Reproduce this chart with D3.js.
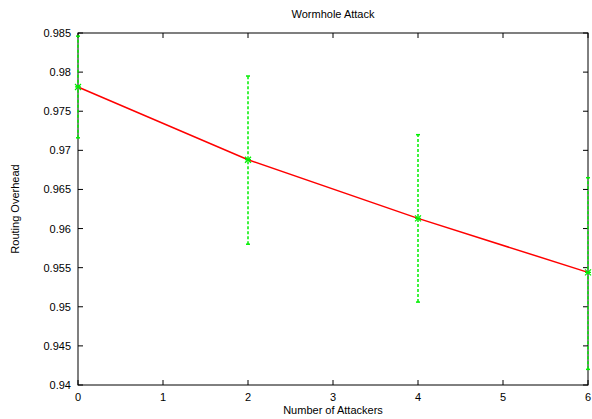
<!DOCTYPE html>
<html><head><meta charset="utf-8">
<script src="https://cdn.jsdelivr.net/npm/d3@7"></script>
<style>body{margin:0;background:#fff}svg{display:block;font-family:"Liberation Sans",Arial,sans-serif}</style>
</head><body>
<svg id="c" width="592" height="419"></svg>
<script>
const attackers = [0, 2, 4, 6];
const overhead = [0.9781, 0.9688, 0.9613, 0.9544];
const errLow = [0.9716, 0.9580, 0.9506, 0.9420];
const errHigh = [0.9846, 0.9795, 0.9720, 0.9665];
const xTicks = [0, 1, 2, 3, 4, 5, 6];
const yTicks = [0.94, 0.945, 0.95, 0.955, 0.96, 0.965, 0.97, 0.975, 0.98, 0.985];

const svg = d3.select("#c");
const L = 78, R = 588, T = 33, B = 385;
const x = d3.scaleLinear().domain([0, 6]).range([L, R]);
const y = d3.scaleLinear().domain([0.94, 0.985]).range([B, T]);

const fmt = d => String(+d.toFixed(3));
const tl = 5;
const g = svg.append("g");
xTicks.forEach(t => {
  g.append("line").attr("x1", x(t)).attr("x2", x(t)).attr("y1", B).attr("y2", B - tl).attr("stroke", "#000");
  g.append("line").attr("x1", x(t)).attr("x2", x(t)).attr("y1", T).attr("y2", T + tl).attr("stroke", "#000");
  g.append("text").attr("x", x(t)).attr("y", B + 16).attr("text-anchor", "middle").attr("font-size", 11).text(t);
});
yTicks.forEach(t => {
  g.append("line").attr("x1", L).attr("x2", L + tl).attr("y1", y(t)).attr("y2", y(t)).attr("stroke", "#000");
  g.append("line").attr("x1", R).attr("x2", R - tl).attr("y1", y(t)).attr("y2", y(t)).attr("stroke", "#000");
  g.append("text").attr("x", L - 7).attr("y", y(t) + 4).attr("text-anchor", "end").attr("font-size", 11).text(fmt(t));
});

// border
svg.append("rect").attr("x", L).attr("y", T).attr("width", R - L).attr("height", B - T)
  .attr("fill", "none").attr("stroke", "#000").attr("stroke-width", 1);

// error bars
const green = "#00ee00";
attackers.forEach((a, i) => {
  svg.append("line").attr("x1", x(a)).attr("x2", x(a)).attr("y1", y(errLow[i])).attr("y2", y(errHigh[i]))
    .attr("stroke", green).attr("stroke-width", 1.5).attr("stroke-dasharray", "3,2");
  [errLow[i], errHigh[i]].forEach(v => {
    svg.append("line").attr("x1", x(a) - 2).attr("x2", x(a) + 2).attr("y1", y(v)).attr("y2", y(v))
      .attr("stroke", green).attr("stroke-width", 1.5);
  });
});

// line
const line = d3.line().x((d, i) => x(attackers[i])).y(d => y(d));
svg.append("path").datum(overhead).attr("d", line).attr("fill", "none").attr("stroke", "#ff0000").attr("stroke-width", 1.5);

// markers
attackers.forEach((a, i) => {
  const cx = x(a), cy = y(overhead[i]);
  svg.append("path").attr("d", `M${cx-3},${cy-3}L${cx+3},${cy+3}M${cx-3},${cy+3}L${cx+3},${cy-3}M${cx-3},${cy}L${cx+3},${cy}`)
    .attr("stroke", green).attr("stroke-width", 1.2);
});

// titles
svg.append("text").attr("x", (L + R) / 2).attr("y", 18).attr("text-anchor", "middle").attr("font-size", 11).text("Wormhole Attack");
svg.append("text").attr("x", (L + R) / 2).attr("y", 414).attr("text-anchor", "middle").attr("font-size", 11).text("Number of Attackers");
svg.append("text").attr("transform", `translate(19,${(T + B) / 2}) rotate(-90)`).attr("text-anchor", "middle").attr("font-size", 11).text("Routing Overhead");
</script>
</body></html>
